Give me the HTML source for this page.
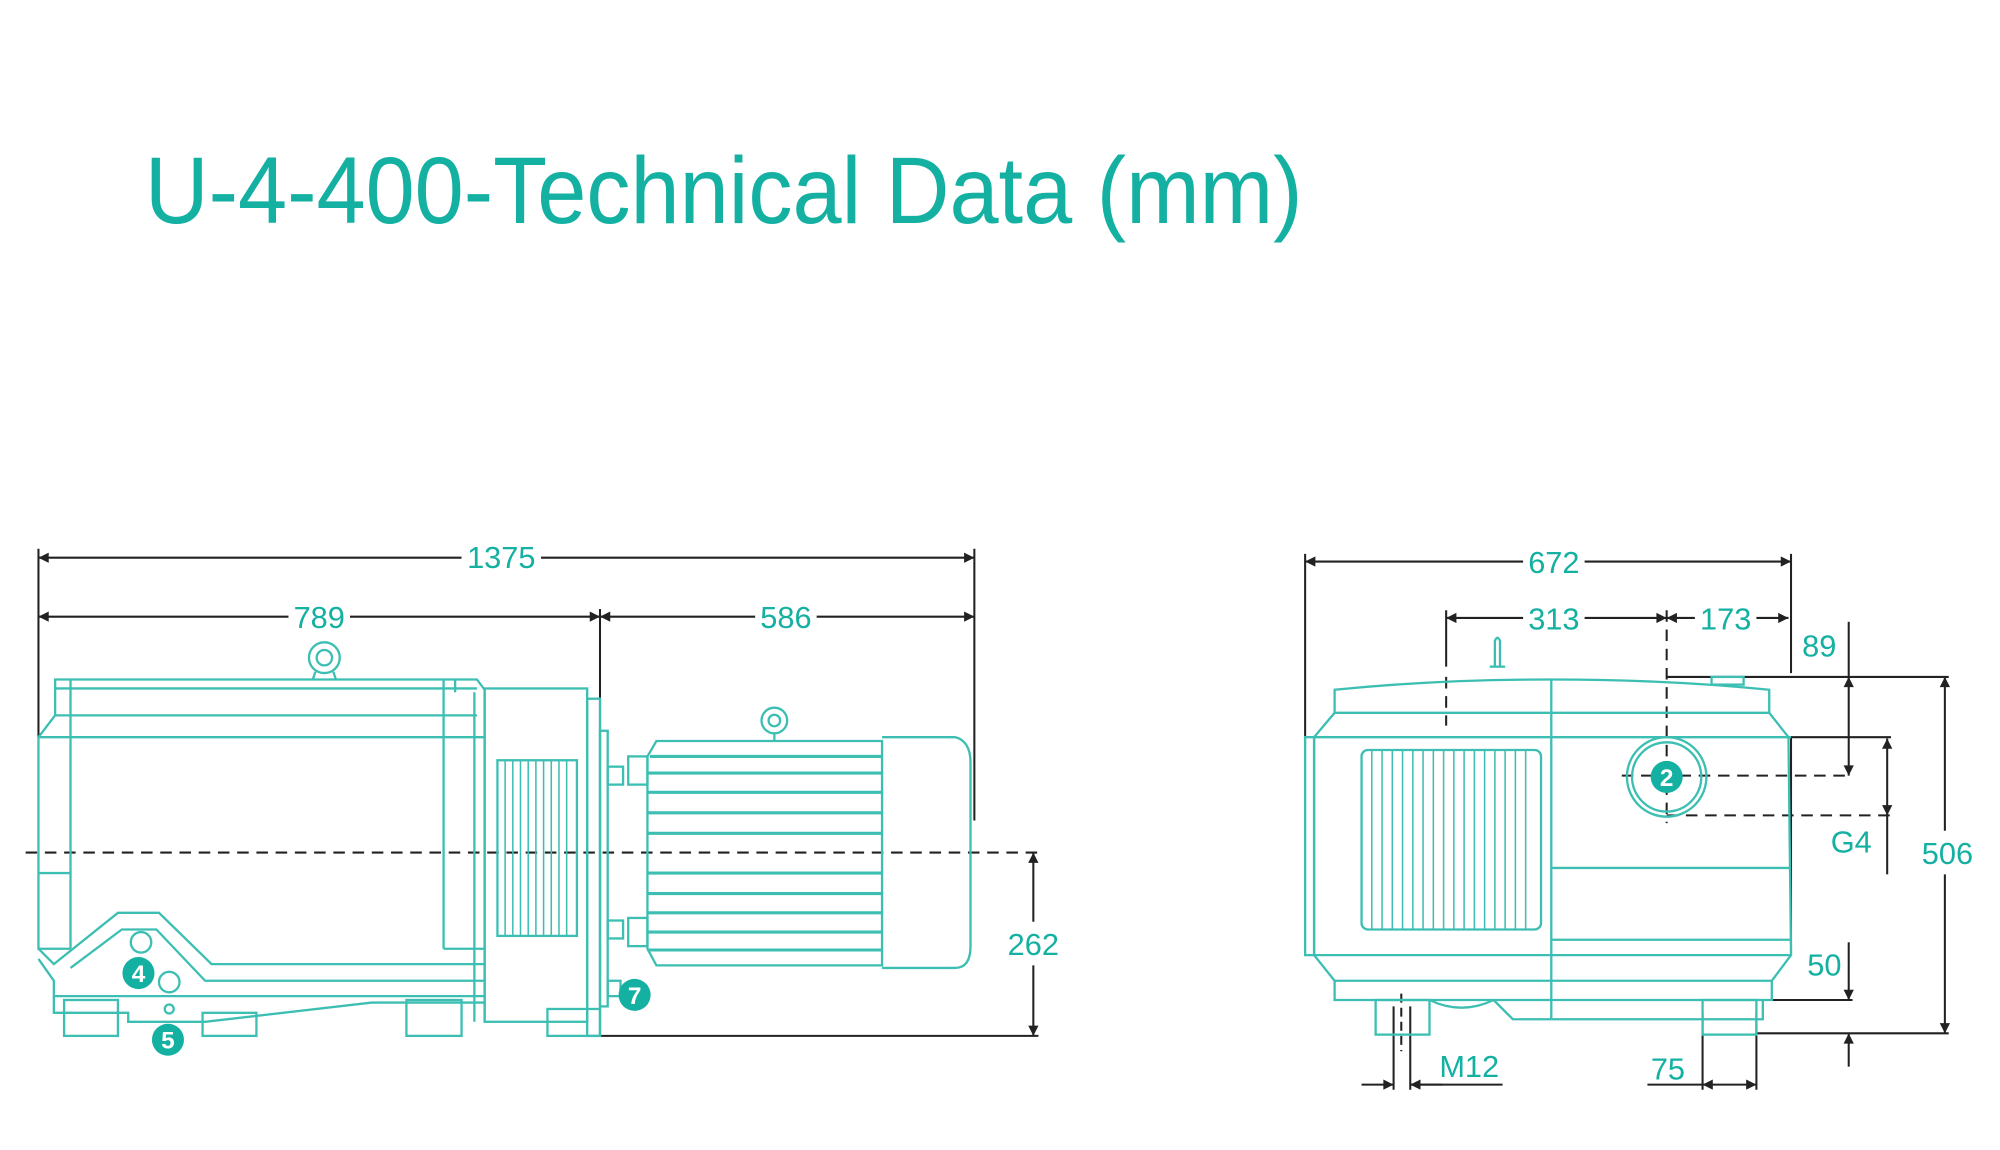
<!DOCTYPE html>
<html><head><meta charset="utf-8"><style>
html,body{margin:0;padding:0;background:#fff;}
svg{display:block;}
</style></head><body>
<svg width="2000" height="1150" viewBox="0 0 1560 897" preserveAspectRatio="none" xmlns="http://www.w3.org/2000/svg">
<defs>
<marker id="a" viewBox="0 0 10 10" refX="10" refY="5" markerWidth="10" markerHeight="8" markerUnits="userSpaceOnUse" orient="auto-start-reverse"><path d="M0,0 L10,5 L0,10 z" fill="#222"/></marker>
</defs>
<rect width="1560" height="897" fill="#fff"/>
<text x="113" y="174" font-family="Liberation Sans, sans-serif" font-size="74" fill="#14b0a2" textLength="903" lengthAdjust="spacingAndGlyphs">U-4-400-Technical Data (mm)</text>

<g stroke="#222" stroke-width="1.6" fill="none">
<line x1="30" y1="435" x2="360" y2="435" marker-start="url(#a)"/>
<line x1="422" y1="435" x2="760" y2="435" marker-end="url(#a)"/>
<line x1="30" y1="481" x2="225" y2="481" marker-start="url(#a)"/>
<line x1="273" y1="481" x2="468" y2="481" marker-end="url(#a)"/>
<line x1="468" y1="481" x2="589" y2="481" marker-start="url(#a)"/>
<line x1="637" y1="481" x2="760" y2="481" marker-end="url(#a)"/>
<line x1="30" y1="428" x2="30" y2="575"/>
<line x1="760" y1="428" x2="760" y2="640"/>
<line x1="468" y1="475" x2="468" y2="808"/>
<line x1="468" y1="808" x2="810" y2="808"/>
<line x1="806" y1="665" x2="806" y2="719" marker-start="url(#a)"/>
<line x1="806" y1="753" x2="806" y2="808" marker-end="url(#a)"/>
<line x1="20" y1="665" x2="810" y2="665" stroke-dasharray="9,6"/>

<line x1="1018" y1="438" x2="1188" y2="438" marker-start="url(#a)"/>
<line x1="1236" y1="438" x2="1397" y2="438" marker-end="url(#a)"/>
<line x1="1018" y1="432" x2="1018" y2="575"/>
<line x1="1397" y1="432" x2="1397" y2="525"/>
<line x1="1397" y1="575" x2="1397" y2="745"/>
<line x1="1128" y1="482" x2="1188" y2="482" marker-start="url(#a)"/>
<line x1="1236" y1="482" x2="1300" y2="482" marker-end="url(#a)"/>
<line x1="1300" y1="482" x2="1322" y2="482" marker-start="url(#a)"/>
<line x1="1370" y1="482" x2="1395" y2="482" marker-end="url(#a)"/>
<line x1="1128" y1="476" x2="1128" y2="520"/>
<line x1="1128" y1="528" x2="1128" y2="566" stroke-dasharray="9,6"/>
<line x1="1300" y1="476" x2="1300" y2="642" stroke-dasharray="9,6"/>
<line x1="1300" y1="528" x2="1520" y2="528"/>
<line x1="1395" y1="575" x2="1475" y2="575"/>
<line x1="1265" y1="605" x2="1445" y2="605" stroke-dasharray="9,6"/>
<line x1="1300" y1="636" x2="1475" y2="636" stroke-dasharray="9,6"/>
<line x1="1442" y1="485" x2="1442" y2="528"/>
<line x1="1442" y1="528" x2="1442" y2="605" marker-start="url(#a)" marker-end="url(#a)"/>
<line x1="1472" y1="576" x2="1472" y2="636" marker-start="url(#a)" marker-end="url(#a)"/>
<line x1="1472" y1="636" x2="1472" y2="682"/>
<line x1="1517" y1="528" x2="1517" y2="648" marker-start="url(#a)"/>
<line x1="1517" y1="682" x2="1517" y2="806" marker-end="url(#a)"/>
<line x1="1370" y1="780" x2="1445" y2="780"/>
<line x1="1370" y1="806" x2="1520" y2="806"/>
<line x1="1442" y1="735" x2="1442" y2="780" marker-end="url(#a)"/>
<line x1="1442" y1="832" x2="1442" y2="806" marker-end="url(#a)"/>
<line x1="1062" y1="846" x2="1087" y2="846" marker-end="url(#a)"/>
<line x1="1125" y1="846" x2="1100" y2="846" marker-end="url(#a)"/>
<line x1="1100" y1="846" x2="1172" y2="846"/>
<line x1="1087" y1="785" x2="1087" y2="850"/>
<line x1="1100" y1="785" x2="1100" y2="850"/>
<line x1="1093" y1="775" x2="1093" y2="820" stroke-dasharray="7,4"/>
<line x1="1285" y1="846" x2="1328" y2="846"/>
<line x1="1328" y1="846" x2="1370" y2="846" marker-start="url(#a)" marker-end="url(#a)"/>
<line x1="1328" y1="790" x2="1328" y2="850"/>
<line x1="1370" y1="790" x2="1370" y2="850"/>
</g>

<g font-family="Liberation Sans, sans-serif" font-size="24" fill="#14b0a2" text-anchor="middle">
<text x="391" y="443">1375</text>
<text x="249" y="490">789</text>
<text x="613" y="490">586</text>
<text x="806" y="745">262</text>
<text x="1212" y="447">672</text>
<text x="1212" y="491">313</text>
<text x="1346" y="491">173</text>
<text x="1419" y="512">89</text>
<text x="1444" y="665">G4</text>
<text x="1519" y="674">506</text>
<text x="1423" y="761">50</text>
<text x="1146" y="840">M12</text>
<text x="1301" y="842">75</text>
</g>

<g stroke="#3cbfb2" stroke-width="1.8" fill="none">
<path d="M30,575 L43,558 L43,530 L372,530 L378,538 L378,797"/>
<line x1="43" y1="537" x2="372" y2="537"/>
<line x1="55" y1="530" x2="55" y2="740"/>
<line x1="43" y1="558" x2="372" y2="558"/>
<line x1="30" y1="575" x2="378" y2="575"/>
<line x1="346" y1="530" x2="346" y2="740"/>
<line x1="355" y1="530" x2="355" y2="540"/>
<path d="M30,575 L30,740 L55,740"/>
<line x1="30" y1="681" x2="55" y2="681"/>
<path d="M346,740 L378,740"/>
<path d="M30,748 L42,765 L42,777 L378,777"/>
<path d="M30,740 L42,752 L92,712 L124,712 L165,752 L378,752"/>
<path d="M55,755 L95,725 L122,725 L160,765 L378,765"/>
<path d="M42,777 L42,790 L100,790 L100,797 L160,797 L290,782 L378,782"/>
<rect x="50" y="780" width="42" height="28"/>
<rect x="158" y="790" width="42" height="18"/>
<rect x="317" y="780" width="43" height="28"/>
<rect x="427" y="787" width="41" height="21"/>
<circle cx="110" cy="735" r="8"/>
<circle cx="132" cy="766" r="8"/>
<circle cx="132" cy="787" r="3.5"/>
<circle cx="253" cy="513" r="12"/><circle cx="253" cy="513" r="6"/>
<path d="M246,524 L244,530 M260,524 L262,530"/>
<rect x="378" y="537" width="80" height="260"/>
<line x1="370" y1="540" x2="370" y2="797"/>
<rect x="388" y="593" width="62" height="137"/>
<g stroke-width="1.2">
<line x1="394" y1="593" x2="394" y2="730"/><line x1="400" y1="593" x2="400" y2="730"/><line x1="406" y1="593" x2="406" y2="730"/><line x1="412" y1="593" x2="412" y2="730"/><line x1="418" y1="593" x2="418" y2="730"/><line x1="424" y1="593" x2="424" y2="730"/><line x1="430" y1="593" x2="430" y2="730"/><line x1="436" y1="593" x2="436" y2="730"/><line x1="442" y1="593" x2="442" y2="730"/>
</g>
<rect x="458" y="545" width="10" height="263"/>
<rect x="468" y="570" width="6" height="215"/>
<rect x="474" y="598" width="12" height="14"/><rect x="474" y="718" width="12" height="14"/>
<rect x="474" y="765" width="10" height="12"/>
<rect x="490" y="590" width="15" height="22"/><rect x="490" y="716" width="15" height="22"/>
<path d="M505,590 L512,578 L688,578 L688,753 L512,753 L505,740 Z"/>
<g stroke-width="2.4">
<line x1="507" y1="590" x2="688" y2="590"/><line x1="505" y1="603" x2="688" y2="603"/><line x1="505" y1="618" x2="688" y2="618"/><line x1="505" y1="634" x2="688" y2="634"/><line x1="505" y1="650" x2="688" y2="650"/><line x1="505" y1="681" x2="688" y2="681"/><line x1="505" y1="697" x2="688" y2="697"/><line x1="505" y1="712" x2="688" y2="712"/><line x1="505" y1="727" x2="688" y2="727"/><line x1="505" y1="741" x2="688" y2="741"/>
</g>
<path d="M688,575 L745,575 Q757,578 757,595 L757,738 Q757,755 745,755 L688,755"/>
<circle cx="604" cy="562" r="10"/><circle cx="604" cy="562" r="4.5"/>
<line x1="604" y1="572" x2="604" y2="578"/>
</g>
<g font-family="Liberation Sans, sans-serif" font-size="19" font-weight="bold" fill="#fff" text-anchor="middle">
<circle cx="108" cy="759" r="12.5" fill="#14b0a2"/><text x="108" y="766">4</text>
<circle cx="131" cy="811" r="12.5" fill="#14b0a2"/><text x="131" y="818">5</text>
<circle cx="495" cy="776" r="12.5" fill="#14b0a2"/><text x="495" y="783">7</text>
</g>

<g stroke="#3cbfb2" stroke-width="1.8" fill="none">
<path d="M1041,556 L1041,538 Q1120,530 1210,530 Q1300,530 1380,538 L1380,556"/>
<path d="M1041,556 L1380,556 L1395,575 L1397,745 L1382,765 L1382,780 L1041,780 L1041,765 L1025,745 L1025,575 Z"/>
<rect x="1018" y="575" width="7" height="170"/>
<line x1="1025" y1="575" x2="1397" y2="575"/>
<line x1="1025" y1="745" x2="1397" y2="745"/>
<line x1="1041" y1="765" x2="1382" y2="765"/>
<line x1="1210" y1="530" x2="1210" y2="795"/>
<line x1="1210" y1="677" x2="1397" y2="677"/>
<line x1="1210" y1="733" x2="1397" y2="733"/>
<line x1="1162" y1="520" x2="1174" y2="520"/>
<path d="M1166,520 L1166,500 Q1168,495 1170,500 L1170,520"/>
<rect x="1335" y="528" width="25" height="6"/>
<rect x="1062" y="585" width="140" height="140" rx="5"/>
<g stroke-width="1.2">
<line x1="1070" y1="585" x2="1070" y2="725"/><line x1="1078" y1="585" x2="1078" y2="725"/><line x1="1086" y1="585" x2="1086" y2="725"/><line x1="1094" y1="585" x2="1094" y2="725"/><line x1="1102" y1="585" x2="1102" y2="725"/><line x1="1110" y1="585" x2="1110" y2="725"/><line x1="1118" y1="585" x2="1118" y2="725"/><line x1="1126" y1="585" x2="1126" y2="725"/><line x1="1134" y1="585" x2="1134" y2="725"/><line x1="1142" y1="585" x2="1142" y2="725"/><line x1="1150" y1="585" x2="1150" y2="725"/><line x1="1158" y1="585" x2="1158" y2="725"/><line x1="1166" y1="585" x2="1166" y2="725"/><line x1="1174" y1="585" x2="1174" y2="725"/><line x1="1182" y1="585" x2="1182" y2="725"/><line x1="1190" y1="585" x2="1190" y2="725"/>
</g>
<ellipse cx="1300" cy="606" rx="31" ry="31"/>
<ellipse cx="1300" cy="606" rx="27" ry="27"/>
<rect x="1073" y="780" width="42" height="27"/>
<rect x="1328" y="780" width="42" height="27"/>
<path d="M1115,780 Q1140,792 1165,780 L1180,795 L1210,795"/>
<path d="M1210,795 L1375,795 L1375,780"/>
</g>
<circle cx="1300" cy="606" r="12.5" fill="#14b0a2"/>
<text x="1300" y="613" font-family="Liberation Sans, sans-serif" font-size="19" font-weight="bold" fill="#fff" text-anchor="middle">2</text>
</svg>
</body></html>
